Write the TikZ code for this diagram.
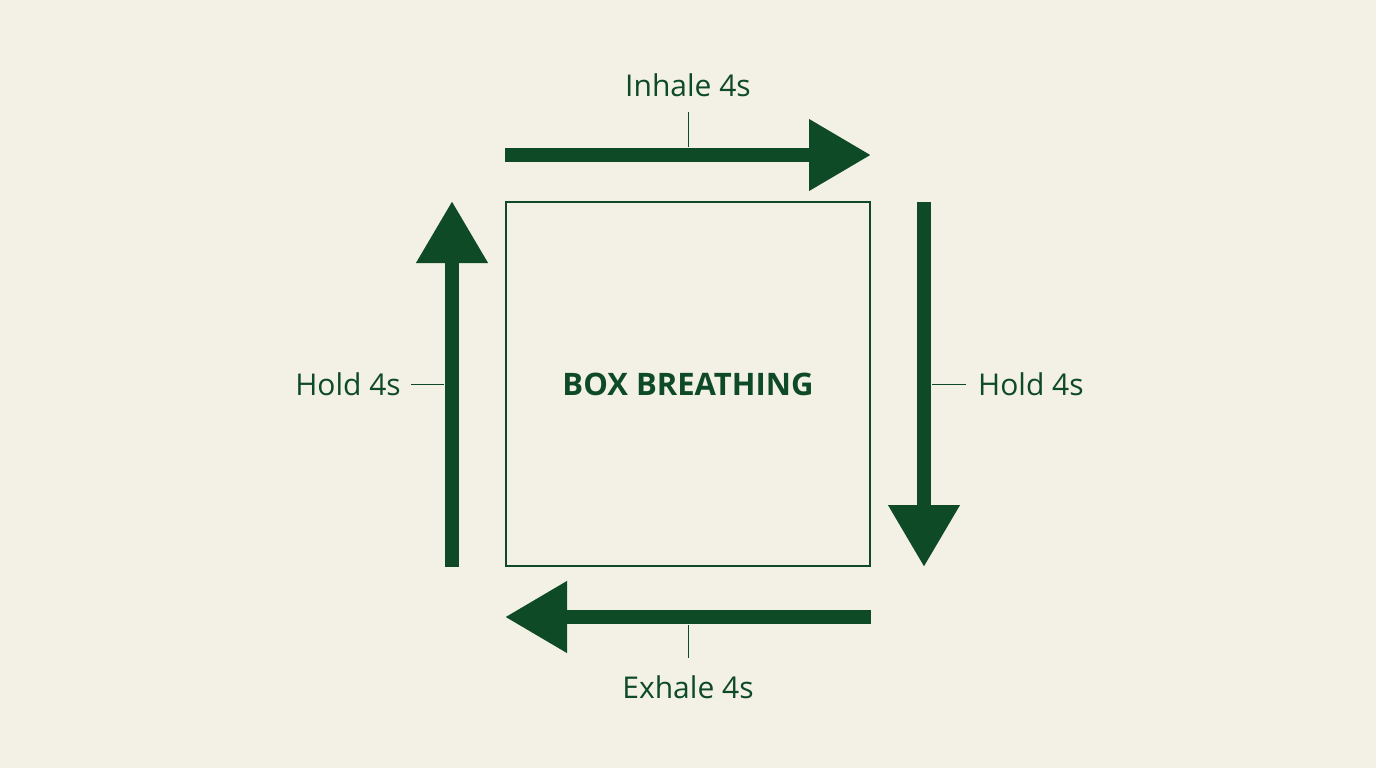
\documentclass[tikz,border=0pt]{standalone}
\usepackage{fontspec}
\setmainfont{Open Sans}
\usetikzlibrary{arrows.meta}
\definecolor{bg}{HTML}{F3F1E6}
\definecolor{dg}{HTML}{0F4A26}
\begin{document}
\begin{tikzpicture}[x=1pt,y=-1pt,
  big/.style={dg,line width=14pt,-{Triangle[length=62pt,width=68pt]}},
  tick/.style={dg,line width=1pt},
  lab/.style={text=dg,font=\fontsize{30}{34}\selectfont,inner sep=0pt}]
\fill[bg] (0,0) rectangle (1376,768);
\useasboundingbox (0,0) rectangle (1376,768);
\node[draw=dg,line width=2pt,minimum width=364pt,minimum height=364pt,inner sep=0pt,
  text=dg,font=\bfseries\fontsize{31}{34}\selectfont] (box) at (688,384) {BOX BREATHING};
\coordinate (t1) at (505,155); \coordinate (t2) at (871,155);
\coordinate (r1) at (924,202); \coordinate (r2) at (924,567);
\coordinate (b1) at (871,617); \coordinate (b2) at (505,617);
\coordinate (l1) at (452,567); \coordinate (l2) at (452,201);
\draw[big] (t1) -- (t2);
\draw[big] (r1) -- (r2);
\draw[big] (b1) -- (b2);
\draw[big] (l1) -- (l2);
\node[lab] (inh) at (688,85) {Inhale 4s};
\node[lab] (exh) at (688,687) {Exhale 4s};
\node[lab,anchor=west] (hr) at (978,384) {Hold 4s};
\node[lab,anchor=east] (hl) at (401,384) {Hold 4s};
\coordinate (ti) at (688,147); \coordinate (tb) at (688,625);
\coordinate (tr) at (932,384); \coordinate (tl) at (444,384);
\draw[tick] (688,112) -- (ti);
\draw[tick] (tb) -- (688,658);
\draw[tick] (tr) -- (966,384);
\draw[tick] (411,384) -- (tl);
\end{tikzpicture}
\end{document}
